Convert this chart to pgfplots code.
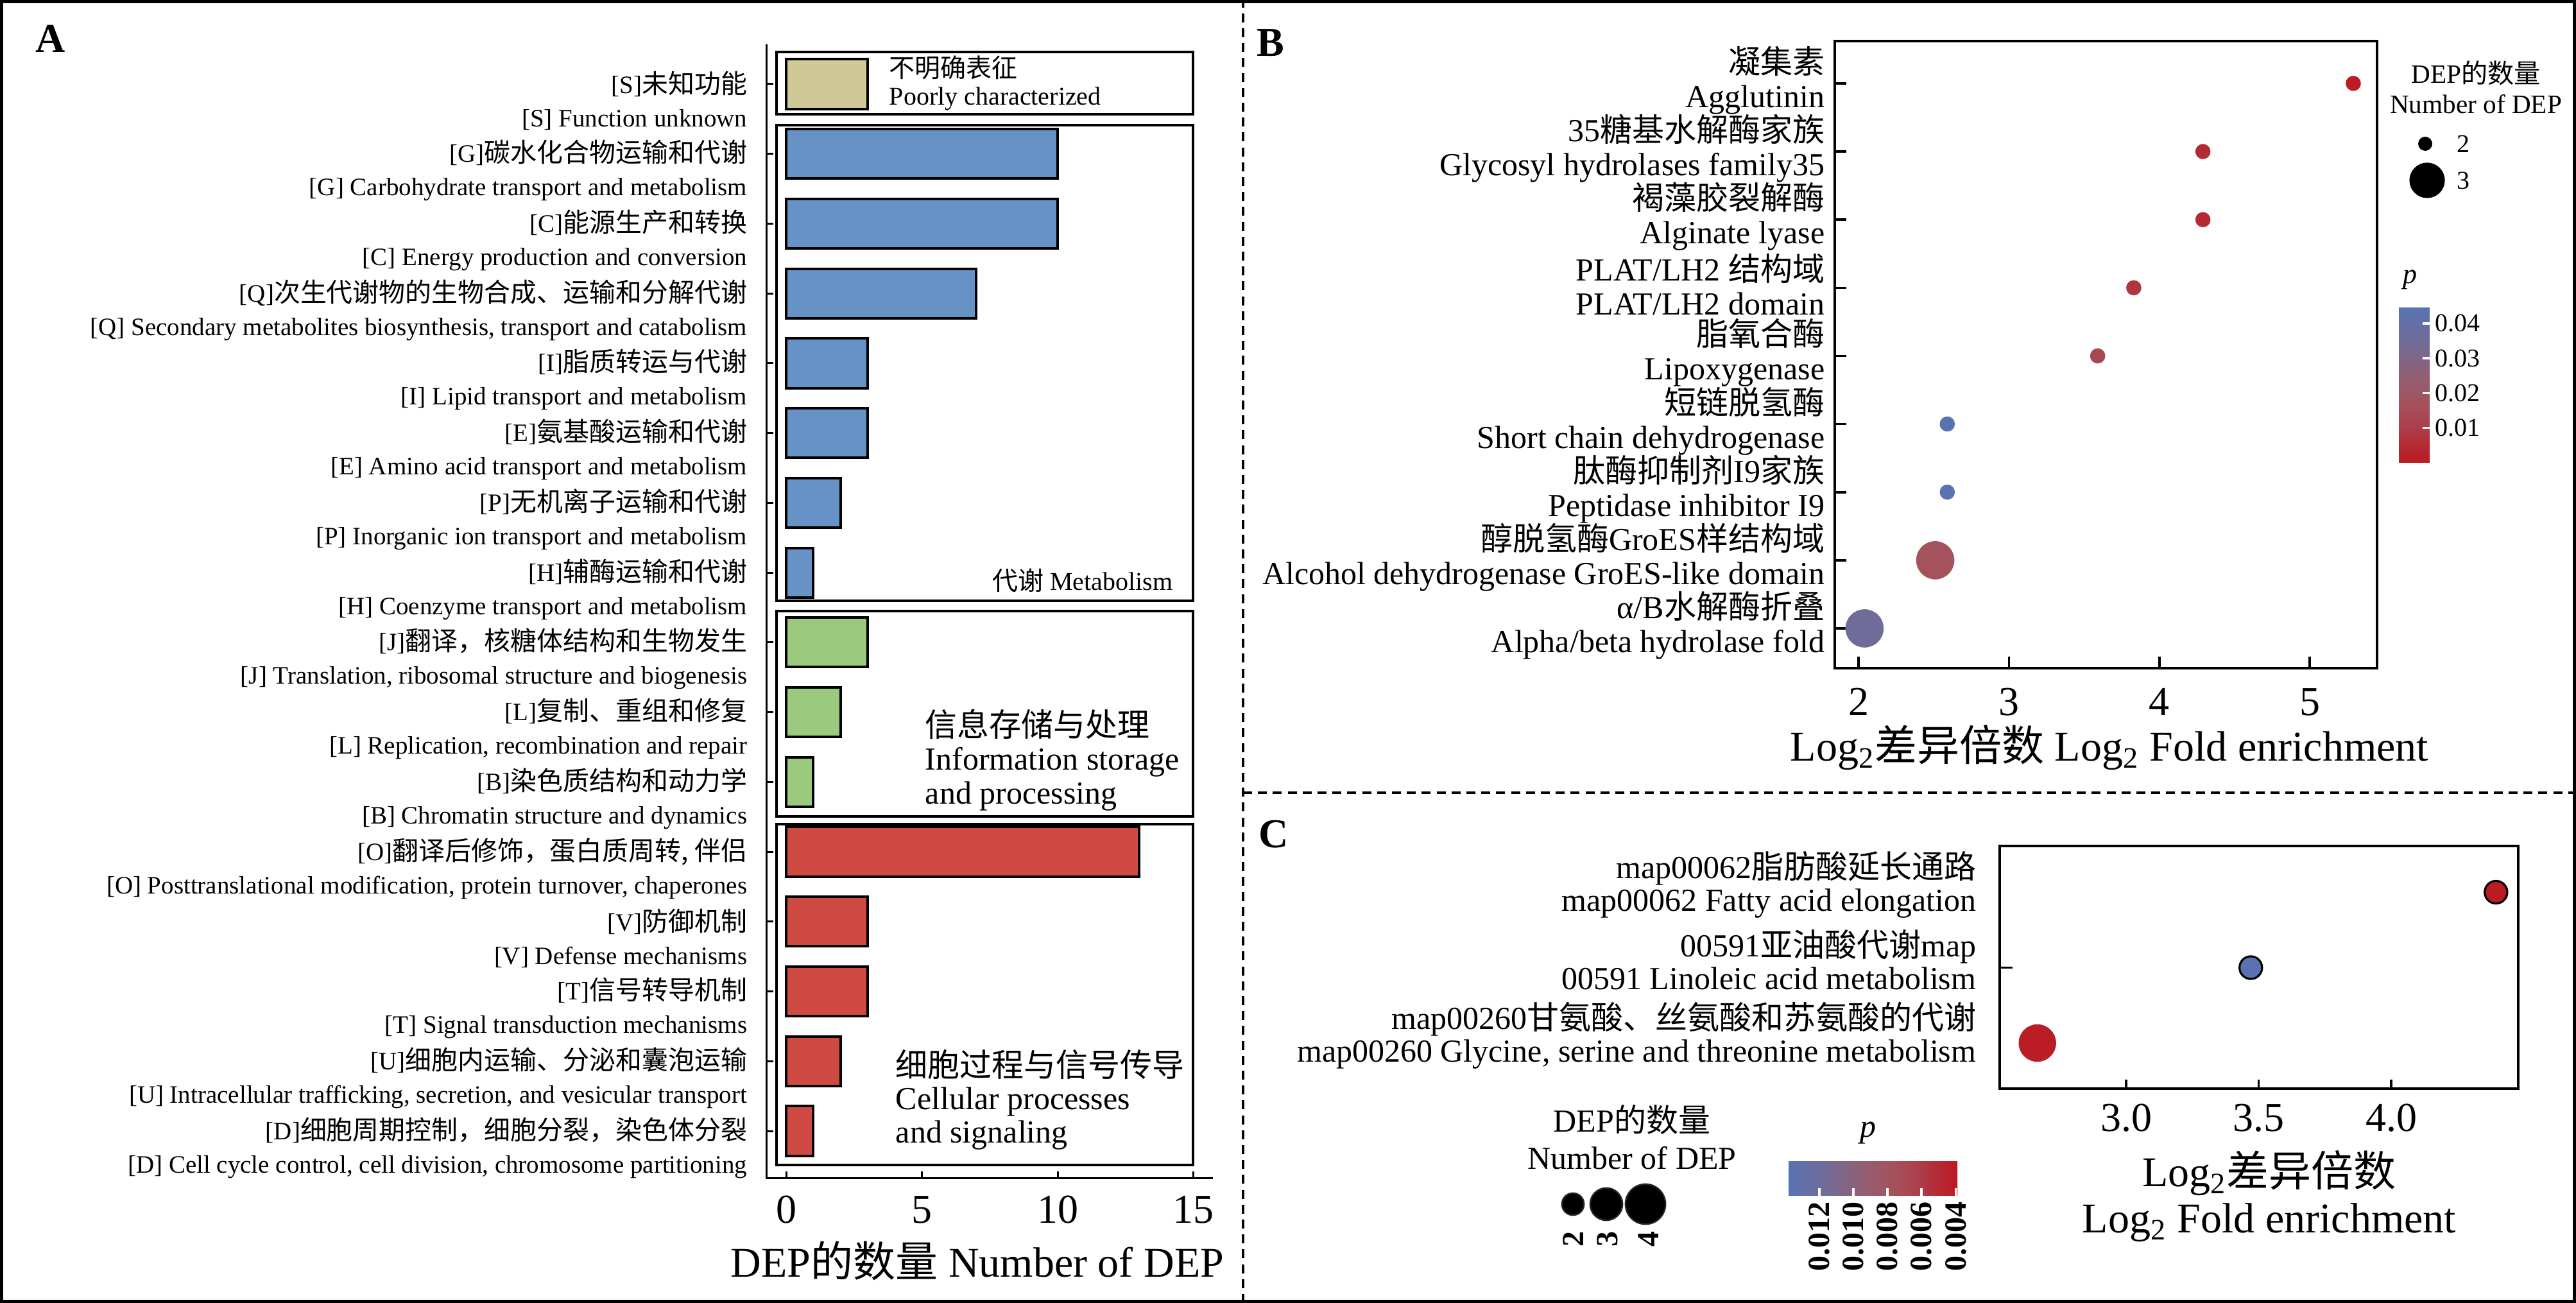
\documentclass[border=0pt]{standalone}
\usepackage{fontspec}
\setmainfont{Liberation Serif}
\newfontfamily\cjk{Noto Sans CJK SC}
\newfontfamily\cjkA[Scale=1.05]{Noto Sans CJK SC}
\usepackage{pgfplots}
\pgfplotsset{compat=1.18}
\pgfplotsset{/pgf/number format/assume math mode=true}
\newcommand\zh[1]{{\cjk #1}}
\newcommand\zhA[1]{{\cjkA #1}}

% bar colours (COG groups)
\definecolor{barS}{RGB}{207,201,151}
\definecolor{barM}{RGB}{102,146,198}
\definecolor{barI}{RGB}{155,202,127}
\definecolor{barC}{RGB}{207,74,66}
% p colour scale, red (low p) to blue (high p)
\definecolor{pc0}{RGB}{189,26,34}
\definecolor{pc1}{RGB}{180,42,52}
\definecolor{pc2}{RGB}{172,62,74}
\definecolor{pc3}{RGB}{164,82,92}
\definecolor{pc4}{RGB}{145,95,115}
\definecolor{pc5}{RGB}{112,108,154}
\definecolor{pc6}{RGB}{88,115,178}
\pgfplotsset{colormap={pmap}{rgb255(0mm)=(189,26,34); rgb255(50mm)=(180,42,52); rgb255(100mm)=(172,62,74); rgb255(170mm)=(164,82,92); rgb255(250mm)=(145,95,115); rgb255(350mm)=(112,108,154); rgb255(444mm)=(88,115,178)}}
\pgfdeclareverticalshading{pbarv}{100bp}{color(0bp)=(pc0); color(25bp)=(pc0); color(30.63bp)=(pc1); color(36.26bp)=(pc2); color(44.14bp)=(pc3); color(53.15bp)=(pc4); color(64.41bp)=(pc5); color(75bp)=(pc6); color(100bp)=(pc6)}
\pgfdeclarehorizontalshading{pbarh}{100bp}{color(0bp)=(pc6); color(25bp)=(pc6); color(35.6bp)=(pc5); color(46.85bp)=(pc4); color(55.85bp)=(pc3); color(63.74bp)=(pc2); color(69.37bp)=(pc1); color(75bp)=(pc0); color(100bp)=(pc0)}

\begin{document}
\begin{tikzpicture}
\path[use as bounding box] (0,0) rectangle (1003.5pt,507.5pt);

% ---------------- A: COG bars ----------------
\begin{axis}[
  at={(298.5pt,48.5pt)}, anchor=south west, scale only axis,
  width=174pt, height=441.75pt,
  xmin=-0.733, xmax=15.72, ymin=-0.68, ymax=15.57,
  axis x line=bottom, axis y line=left,
  axis line style={-, line width=0.75pt},
  xtick={0,5,10,15}, ytick={0,...,15},
  tick align=inside, major tick length=2.75pt,
  tick style={line width=0.75pt, black},
  xticklabel style={font=\fontsize{16}{16}\selectfont, inner sep=0pt, yshift=-6.6pt},
  yticklabel style={font=\fontsize{9.75}{13}\selectfont, align=right, inner sep=0pt, xshift=-7.25pt, yshift=-6.5pt},
  yticklabels={
    {[D]\zhA{细胞周期控制，细胞分裂，染色体分裂}\\{}[D] Cell cycle control, cell division, chromosome partitioning},
    {[U]\zhA{细胞内运输、分泌和囊泡运输}\\{}[U] Intracellular trafficking, secretion, and vesicular transport},
    {[T]\zhA{信号转导机制}\\{}[T] Signal transduction mechanisms},
    {[V]\zhA{防御机制}\\{}[V] Defense mechanisms},
    {[O]\zhA{翻译后修饰，蛋白质周转, 伴侣}\\{}[O] Posttranslational modification, protein turnover, chaperones},
    {[B]\zhA{染色质结构和动力学}\\{}[B] Chromatin structure and dynamics},
    {[L]\zhA{复制、重组和修复}\\{}[L] Replication, recombination and repair},
    {[J]\zhA{翻译，核糖体结构和生物发生}\\{}[J] Translation, ribosomal structure and biogenesis},
    {[H]\zhA{辅酶运输和代谢}\\{}[H] Coenzyme transport and metabolism},
    {[P]\zhA{无机离子运输和代谢}\\{}[P] Inorganic ion transport and metabolism},
    {[E]\zhA{氨基酸运输和代谢}\\{}[E] Amino acid transport and metabolism},
    {[I]\zhA{脂质转运与代谢}\\{}[I] Lipid transport and metabolism},
    {[Q]\zhA{次生代谢物的生物合成、运输和分解代谢}\\{}[Q] Secondary metabolites biosynthesis, transport and catabolism},
    {[C]\zhA{能源生产和转换}\\{}[C] Energy production and conversion},
    {[G]\zhA{碳水化合物运输和代谢}\\{}[G] Carbohydrate transport and metabolism},
    {[S]\zhA{未知功能}\\{}[S] Function unknown}},
  clip=false,
]
\addplot[xbar, bar width=0.71, bar shift=0pt, fill=barC, draw=black, line width=1pt]
  coordinates {(1,0) (2,1) (3,2) (3,3) (13,4)};
\addplot[xbar, bar width=0.71, bar shift=0pt, fill=barI, draw=black, line width=1pt]
  coordinates {(1,5) (2,6) (3,7)};
\addplot[xbar, bar width=0.71, bar shift=0pt, fill=barM, draw=black, line width=1pt]
  coordinates {(1,8) (2,9) (3,10) (3,11) (7,12) (10,13) (10,14)};
\addplot[xbar, bar width=0.71, bar shift=0pt, fill=barS, draw=black, line width=1pt]
  coordinates {(3,15)};
% group frames
\draw[line width=1pt] (axis cs:-0.355,14.57) rectangle (axis cs:14.99,15.455);
\draw[line width=1pt] (axis cs:-0.355,7.60) rectangle (axis cs:14.99,14.41);
\draw[line width=1pt] (axis cs:-0.355,4.51) rectangle (axis cs:14.99,7.45);
\draw[line width=1pt] (axis cs:-0.355,-0.49) rectangle (axis cs:14.99,4.40);
\end{axis}

\node[anchor=west, align=left, inner sep=0pt, font=\fontsize{10}{10.75}\selectfont] at (346.25pt,475.1pt) {\zh{不明确表征}\\Poorly characterized};
\node[anchor=east, inner sep=0pt, font=\fontsize{10}{12}\selectfont] at (457pt,281.5pt) {\zh{代谢} Metabolism};
\node[anchor=west, align=left, inner sep=0pt, font=\fontsize{12.5}{13.1}\selectfont] at (360.25pt,211.5pt) {\zh{信息存储与处理}\\Information storage\\and processing};
\node[anchor=west, align=left, inner sep=0pt, font=\fontsize{12.5}{12.9}\selectfont] at (348.75pt,79.25pt) {\zh{细胞过程与信号传导}\\Cellular processes\\and signaling};
\node[font=\fontsize{16.5}{16.5}\selectfont] at (380.75pt,16.5pt) {DEP\zh{的数量} Number of DEP};

% ---------------- B: domain enrichment ----------------
\begin{axis}[
  at={(714.75pt,247.25pt)}, anchor=south west, scale only axis,
  width=211.25pt, height=244.25pt,
  xmin=1.842, xmax=5.448, ymin=-0.584, ymax=8.622,
  axis line style={line width=0.85pt},
  xtick={2,3,4,5}, ytick={0,...,8},
  xtick pos=bottom, ytick pos=left,
  tick align=inside, major tick length=4.5pt,
  tick style={line width=0.9pt, black},
  xticklabel style={font=\fontsize{16}{16}\selectfont, inner sep=0pt, yshift=-7.6pt},
  yticklabel style={font=\fontsize{12.5}{13.25}\selectfont, align=right, inner sep=0pt, xshift=-3.75pt, yshift=1.2pt},
  yticklabels={
    {α/B\zh{水解酶折叠}\\Alpha/beta hydrolase fold},
    {\zh{醇脱氢酶}GroES\zh{样结构域}\\Alcohol dehydrogenase GroES-like domain},
    {\zh{肽酶抑制剂}I9\zh{家族}\\Peptidase inhibitor I9},
    {\zh{短链脱氢酶}\\Short chain dehydrogenase},
    {\zh{脂氧合酶}\\Lipoxygenase},
    {PLAT/LH2 \zh{结构域}\\PLAT/LH2 domain},
    {\zh{褐藻胶裂解酶}\\Alginate lyase},
    {35\zh{糖基水解酶家族}\\Glycosyl hydrolases family35},
    {\zh{凝集素}\\Agglutinin}},
  colormap name=pmap, point meta min=0, point meta max=0.0444,
]
% DEP count 2
\addplot[scatter, only marks, mark=*, mark size=2.75pt, point meta=explicit,
  scatter/use mapped color={draw=mapped color, fill=mapped color}]
  coordinates {(5.29,8) [0.001] (4.29,7) [0.005] (4.29,6) [0.005] (3.83,5) [0.008]
               (3.59,4) [0.013] (2.59,3) [0.0435] (2.59,2) [0.0435]};
% DEP count 3
\addplot[scatter, only marks, mark=*, mark size=7.25pt, point meta=explicit,
  scatter/use mapped color={draw=mapped color, fill=mapped color}]
  coordinates {(2.51,1) [0.017] (2.04,0) [0.035]};
\end{axis}

\node[font=\fontsize{16.5}{16.5}\selectfont] at (821.75pt,216.25pt) {Log\textsubscript{2}\zh{差异倍数} Log\textsubscript{2} Fold enrichment};

% B legends
\node[font=\fontsize{10.3}{12}\selectfont, inner sep=0pt] at (964.5pt,479pt) {DEP\zh{的数量}};
\node[font=\fontsize{10.3}{12}\selectfont, inner sep=0pt] at (964.5pt,467pt) {Number of DEP};
\fill (944.75pt,451.5pt) circle (2.75pt);
\fill (945.5pt,437.25pt) circle (6.9pt);
\node[font=\fontsize{10}{12}\selectfont, inner sep=0pt] at (959.5pt,451.5pt) {2};
\node[font=\fontsize{10}{12}\selectfont, inner sep=0pt] at (959.5pt,437.25pt) {3};
\node[font=\itshape\fontsize{11}{12}\selectfont, inner sep=0pt] at (938.75pt,398.5pt) {p};
\shade[shading=pbarv] (934.5pt,327.25pt) rectangle (946.5pt,387.5pt);
\foreach \yy/\lab in {340.82/0.01, 354.39/0.02, 367.96/0.03, 381.53/0.04}{
  \draw[white, line width=0.9pt] (943.8pt,\yy pt) -- (946.5pt,\yy pt);
  \node[anchor=west, inner sep=0pt, font=\fontsize{10}{12}\selectfont] at (948.5pt,\yy pt) {\lab};
}

% ---------------- C: KEGG pathways ----------------
\begin{axis}[
  at={(779pt,83.5pt)}, anchor=south west, scale only axis,
  width=202pt, height=94.5pt,
  xmin=2.523, xmax=4.479, ymin=-0.604, ymax=2.613,
  axis line style={line width=0.9pt},
  xtick={3,3.5,4}, xticklabels={3.0,3.5,4.0}, xtick pos=bottom,
  ytick={0,1,2}, ytick pos=left, ytick style={draw=none},
  tick align=inside, major tick length=3.5pt,
  tick style={line width=0.9pt, black},
  xticklabel style={font=\fontsize{16}{16}\selectfont, inner sep=0pt, yshift=-5.85pt},
  yticklabel style={font=\fontsize{12.5}{12.75}\selectfont, align=right, inner sep=0pt, xshift=-9pt, yshift=3pt},
  yticklabels={
    {map00260\zh{甘氨酸、丝氨酸和苏氨酸的代谢}\\map00260 Glycine, serine and threonine metabolism},
    {00591\zh{亚油酸代谢}map\\00591 Linoleic acid metabolism},
    {map00062\zh{脂肪酸延长通路}\\map00062 Fatty acid elongation}},
  colormap name=pmap, point meta min=0.0039, point meta max=0.0138,
]
\addplot[scatter, only marks, mark=*, mark size=4.4pt, line width=0.8pt, point meta=explicit,
  scatter/use mapped color={draw=black, fill=mapped color}]
  coordinates {(4.395,2) [0.0040] (3.47,1) [0.0136]};
\addplot[scatter, only marks, mark=*, mark size=7.1pt, point meta=explicit,
  scatter/use mapped color={draw=mapped color, fill=mapped color}]
  coordinates {(2.665,0) [0.0041]};
\draw[line width=0.9pt] (axis cs:2.523,1) -- ++(5pt,0pt);
\end{axis}

\node[font=\fontsize{16.5}{16.5}\selectfont] at (884pt,50.5pt) {Log\textsubscript{2}\zh{差异倍数}};
\node[font=\fontsize{16.5}{16.5}\selectfont] at (884pt,31.25pt) {Log\textsubscript{2} Fold enrichment};

% C legends
\node[font=\fontsize{12.5}{14}\selectfont, inner sep=0pt] at (635.75pt,71.5pt) {DEP\zh{的数量}};
\node[font=\fontsize{12.5}{14}\selectfont, inner sep=0pt] at (635.75pt,56.5pt) {Number of DEP};
\filldraw[fill=black, draw=black!85, line width=0.6pt] (612.75pt,38.5pt) circle (4.3pt);
\filldraw[fill=black, draw=black!85, line width=0.6pt] (625.75pt,38.5pt) circle (6.3pt);
\filldraw[fill=black, draw=black!85, line width=0.6pt] (641pt,38.5pt) circle (7.8pt);
\foreach \xx/\lab in {613/2, 626.25/3, 642.25/4}{
  \node[rotate=90, inner sep=0pt, font=\bfseries\fontsize{12}{12}\selectfont] at (\xx pt,24.75pt) {\lab};
}
\node[font=\itshape\fontsize{12.5}{14}\selectfont, inner sep=0pt] at (727.75pt,66.25pt) {p};
\shade[shading=pbarh] (696.75pt,41.75pt) rectangle (762.5pt,55pt);
\foreach \xx/\lab in {708.70/0.012, 722.0/0.010, 735.27/0.008, 748.55/0.006, 761.84/0.004}{
  \draw[white, line width=0.9pt] (\xx pt,41.75pt) -- (\xx pt,44.75pt);
  \node[rotate=90, anchor=east, inner sep=0pt, font=\bfseries\fontsize{12}{12}\selectfont] at (\xx pt,39.5pt) {\lab};
}

% panel letters, dividers and frame
\node[font=\bfseries\fontsize{16}{16}\selectfont] at (19.75pt,492.5pt) {A};
\node[font=\bfseries\fontsize{16}{16}\selectfont] at (495pt,490.75pt) {B};
\node[font=\bfseries\fontsize{16}{16}\selectfont] at (496.25pt,182.5pt) {C};
\draw[line width=1pt, dash pattern=on 3.5pt off 2.3pt] (484.25pt,0pt) -- (484.25pt,507.5pt);
\draw[line width=1pt, dash pattern=on 3.5pt off 2.3pt] (484.25pt,198.75pt) -- (1003.5pt,198.75pt);
\draw[line width=1.2pt] (0.6pt,0.6pt) rectangle (1002.9pt,506.9pt);
\end{tikzpicture}
\end{document}
